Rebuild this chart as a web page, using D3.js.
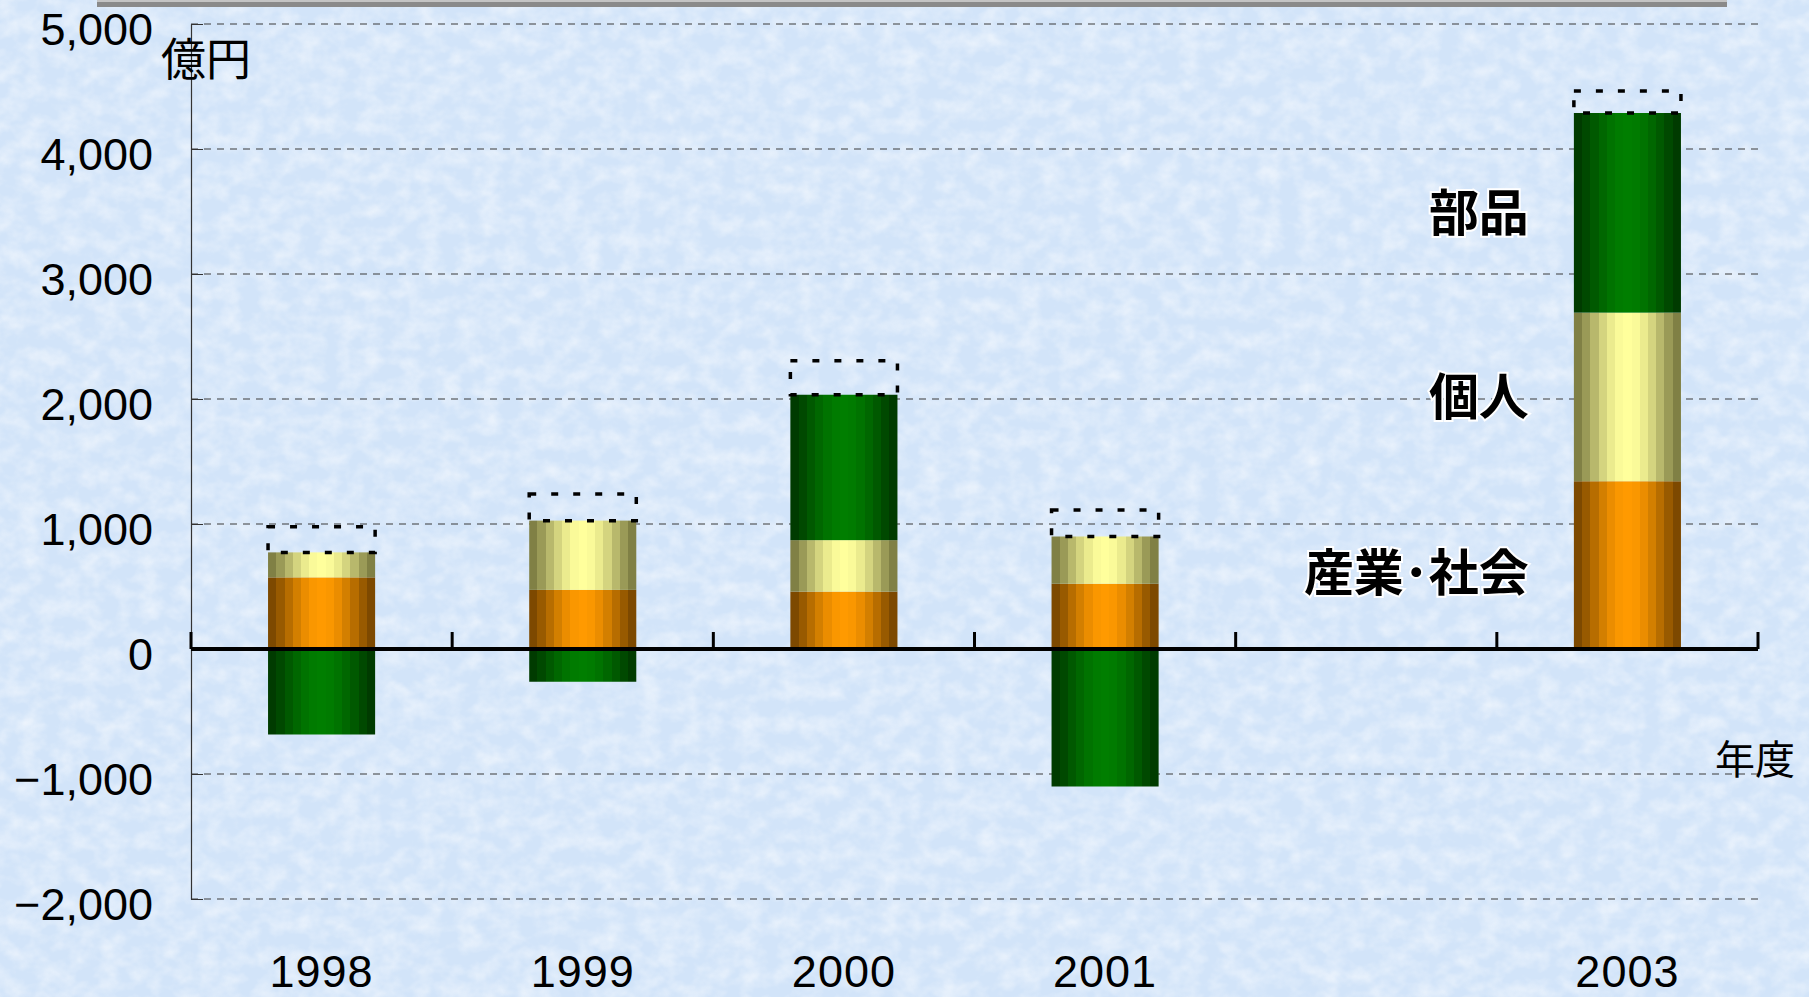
<html>
<script src='https://d3js.org/d3.v7.min.js'></script>
<style>
    body { margin: 0; overflow: hidden; }
    svg { display: block; }
</style>
<body>
<div id="graph-container"></div>
<script>
// categories (fiscal years), 2002 has no bar and no label
var years = ["1998", "1999", "2000", "2001", "2002", "2003"];
var yearLabels = ["1998", "1999", "2000", "2001", "", "2003"];
// 億円
var sangyo = [573, 473, 459, 522, null, 1342];     // 産業・社会
var kojin = [200, 554, 412, 378, null, 1349];      // 個人
var buhin = [-684, -262, 1163, -1100, null, 1597]; // 部品
var dashedBox = [205, 213, 273, 213, null, 176];   // dotted box on top of each bar
var yTicks = [-2000, -1000, 0, 1000, 2000, 3000, 4000, 5000];
var seriesNames = ["産業･社会", "個人", "部品"];

const width = 1809, height = 997;
const plotLeft = 191, plotRight = 1758, plotTop = 24, plotBottom = 899;

const svg = d3.select("#graph-container").append("svg")
    .attr("width", width)
    .attr("height", height);

const defs = svg.append("defs");

// paper-like background texture
const tex = defs.append("filter").attr("id", "tex")
    .attr("x", 0).attr("y", 0).attr("width", "100%").attr("height", "100%");
tex.append("feTurbulence")
    .attr("type", "fractalNoise")
    .attr("baseFrequency", "0.05 0.06")
    .attr("numOctaves", 3)
    .attr("seed", 11);
tex.append("feColorMatrix")
    .attr("type", "matrix")
    .attr("values", "0 0 0 0 1  0 0 0 0 1  0 0 0 0 1  1.3 0 0 0 -0.45");

svg.append("rect").attr("width", width).attr("height", height).attr("fill", "#d2e4f9");
svg.append("rect").attr("width", width).attr("height", height)
    .attr("fill", "#f2f5fd").attr("filter", "url(#tex)").attr("opacity", 0.7);

// grey frame edge at the top
svg.append("rect").attr("x", 97).attr("y", 0).attr("width", 1630).attr("height", 7).attr("fill", "#8a8a8a");
svg.append("rect").attr("x", 97).attr("y", 0).attr("width", 1630).attr("height", 2).attr("fill", "#c4c4c4");

// banded "cylinder" gradients
function banded(id, edge, center) {
    const g = defs.append("linearGradient").attr("id", id)
        .attr("x1", 0).attr("x2", 1).attr("y1", 0).attr("y2", 0);
    const n = 13;
    const interp = d3.interpolateRgb(edge, center);
    for (let i = 0; i < n; i++) {
        const f = Math.pow(Math.sin(Math.PI * (i + 0.5) / n), 1.3);
        const c = interp(f);
        g.append("stop").attr("offset", i / n).attr("stop-color", c);
        g.append("stop").attr("offset", (i + 1) / n).attr("stop-color", c);
    }
}
banded("gOrange", "#744300", "#ff9a00");
banded("gYellow", "#77773f", "#ffff9c");
banded("gGreen", "#003600", "#007e00");

const x = d3.scaleBand()
    .domain(years)
    .range([plotLeft, plotRight])
    .paddingInner(0.59)
    .paddingOuter(0.295);

const y = d3.scaleLinear()
    .domain([-2000, 5000])
    .range([plotBottom, plotTop]);

// gridlines
svg.append("g").selectAll("line")
    .data(yTicks)
    .enter().append("line")
    .attr("x1", plotLeft).attr("x2", plotRight)
    .attr("y1", d => y(d)).attr("y2", d => y(d))
    .attr("stroke", "#3a3a3a")
    .attr("stroke-width", 1)
    .attr("stroke-dasharray", "7,6");

// y axis
const yAxis = svg.append("g")
    .attr("transform", `translate(${plotLeft},0)`)
    .call(d3.axisLeft(y).tickValues(yTicks).tickFormat(d3.format(",")).tickSizeInner(-12).tickSizeOuter(0).tickPadding(38));
yAxis.select(".domain").attr("stroke", "#333").attr("stroke-width", 1.2);
yAxis.selectAll(".tick line").attr("stroke", "#333");
yAxis.selectAll("text")
    .style("font-family", "'Liberation Sans', sans-serif")
    .style("font-size", "45px")
    .attr("dy", "0.45em")
    .attr("fill", "#000");

// stacked bars
const rows = years.map((yr, i) => ({ yr, s: sangyo[i], k: kojin[i], b: buhin[i], d: dashedBox[i] }))
    .filter(r => r.s !== null);

const bars = svg.append("g");
rows.forEach(r => {
    const bx = x(r.yr), bw = x.bandwidth();
    let base = 0;
    const segs = [];
    segs.push({ y0: base, y1: base + r.s, fill: "url(#gOrange)" }); base += r.s;
    segs.push({ y0: base, y1: base + r.k, fill: "url(#gYellow)" }); base += r.k;
    if (r.b >= 0) { segs.push({ y0: base, y1: base + r.b, fill: "url(#gGreen)" }); base += r.b; }
    else segs.push({ y0: r.b, y1: 0, fill: "url(#gGreen)" });
    r.stackTop = base;
    bars.selectAll(null)
        .data(segs)
        .enter().append("rect")
        .attr("x", bx)
        .attr("width", bw)
        .attr("y", d => y(d.y1))
        .attr("height", d => y(d.y0) - y(d.y1))
        .attr("fill", d => d.fill);
    bars.append("rect")
        .attr("x", bx)
        .attr("width", bw)
        .attr("y", y(r.stackTop + r.d))
        .attr("height", y(r.stackTop) - y(r.stackTop + r.d))
        .attr("fill", "none")
        .attr("stroke", "#000")
        .attr("stroke-width", 3.5)
        .attr("stroke-dasharray", "7,15");
});

// zero line with category ticks
svg.append("line")
    .attr("x1", plotLeft).attr("x2", plotRight)
    .attr("y1", y(0)).attr("y2", y(0))
    .attr("stroke", "#000").attr("stroke-width", 4);
svg.append("g").selectAll("line")
    .data(d3.range(years.length + 1))
    .enter().append("line")
    .attr("x1", k => plotLeft + k * x.step()).attr("x2", k => plotLeft + k * x.step())
    .attr("y1", y(0)).attr("y2", y(0) - 17)
    .attr("stroke", "#000").attr("stroke-width", 3);

// year labels
svg.append("g").selectAll("text")
    .data(years)
    .enter().append("text")
    .attr("x", (d) => x(d) + x.bandwidth() / 2)
    .attr("y", 987)
    .attr("text-anchor", "middle")
    .style("font-family", "'Liberation Sans', sans-serif")
    .style("font-size", "45px")
    .style("letter-spacing", "1px")
    .text((d, i) => yearLabels[i]);

// units
svg.append("text")
    .attr("x", 161).attr("y", 76)
    .style("font-family", "'Noto Sans CJK JP'")
    .style("font-size", "45px")
    .text("億円");
svg.append("text")
    .attr("x", 1795).attr("y", 774)
    .attr("text-anchor", "end")
    .style("font-family", "'Noto Sans CJK JP'")
    .style("font-size", "40px")
    .text("年度");

// series labels next to the 2003 bar
const last = rows[rows.length - 1];
const mids = [last.s / 2, last.s + last.k / 2, last.s + last.k + last.b / 2];
svg.append("g").selectAll("text")
    .data(seriesNames)
    .enter().append("text")
    .attr("x", x(last.yr) - 45)
    .attr("y", (d, i) => y(mids[i]) + (i === 0 ? 8 : 0))
    .attr("dy", "0.36em")
    .attr("text-anchor", "end")
    .style("font-family", "'Noto Sans CJK JP'")
    .style("font-weight", "bold")
    .style("font-size", "50px")
    .style("paint-order", "stroke")
    .attr("stroke", "#fff")
    .attr("stroke-width", 4)
    .attr("fill", "#000")
    .text(d => d);
</script>
</body>
</html>
